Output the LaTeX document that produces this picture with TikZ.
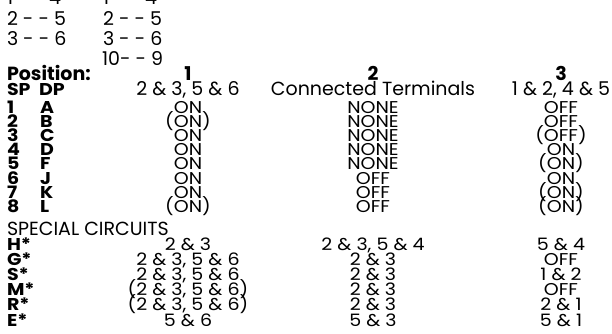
\documentclass[tikz,border=0pt]{standalone}
\usepackage{fontspec}
\usepackage{graphicx}
\setmainfont{Poppins}
\newcommand{\sqz}[1]{\scalebox{1}[0.9]{#1}}
\begin{document}
\begin{tikzpicture}[x=1pt,y=-1pt,
  every node/.style={inner sep=0pt, outer sep=0pt, font=\fontsize{19}{19}\selectfont},
  hd/.style={font=\fontsize{19}{19}\selectfont\bfseries},
  lw/.style={anchor=base west},
  ct/.style={anchor=base}]
\useasboundingbox (0,0) rectangle (612,333);
% top terminal pairs
\node[lw] (a1) at (7,4) {1 - - 4};
\node[lw] (a2) at (7,25) {2 - - 5};
\node[lw] (a3) at (7,45) {3 - - 6};
\node[lw] (b1) at (103,4) {1 - - 4};
\node[lw] (b2) at (103,25) {2 - - 5};
\node[lw] (b3) at (103,45) {3 - - 6};
\node[lw] (b4) at (102,65) {10- - 9};
% headers
\node[lw,hd] (pos) at (7,80) {Position:};
\node[ct,hd] (h1) at (188,80) {1};
\node[ct,hd] (h2) at (373,80) {2};
\node[ct,hd] (h3) at (561,80) {3};
\node[lw,hd] (sp) at (7,95) {\sqz{SP}};
\node[lw,hd] (dp) at (39,95) {\sqz{DP}};
\node[ct] (t1) at (188,95) {2 \& 3, 5 \& 6};
\node[ct] (t2) at (373,95) {Connected Terminals};
\node[ct] (t3) at (561,95) {1 \& 2, 4 \& 5};
% rows
\foreach \rsp/\rdp/\ca/\cb/\cc [count=\k] in {
  1/A/ON/NONE/OFF,
  2/B/(ON)/NONE/OFF,
  3/C/ON/NONE/(OFF),
  4/D/ON/NONE/ON,
  5/F/ON/NONE/(ON),
  6/J/ON/OFF/ON,
  7/K/ON/OFF/(ON),
  8/L/(ON)/OFF/(ON)}{
  \pgfmathsetmacro{\yy}{113+14.2*(\k-1)}
  \node[lw,hd] (s\k) at (7,\yy) {\sqz{\rsp}};
  \node[lw,hd] (d\k) at (40,\yy) {\sqz{\rdp}};
  \node[ct] (c1\k) at (188,\yy) {\sqz{\ca}};
  \node[ct] (c2\k) at (373,\yy) {\sqz{\cb}};
  \node[ct] (c3\k) at (561,\yy) {\sqz{\cc}};
}
\node[lw] (spec) at (7,235) {SPECIAL CIRCUITS};
\foreach \lab/\ca/\cb/\cc [count=\k] in {
  H*/2 \& 3/{2 \& 3, 5 \& 4}/5 \& 4,
  G*/{2 \& 3, 5 \& 6}/2 \& 3/OFF,
  S*/{2 \& 3, 5 \& 6}/2 \& 3/1 \& 2,
  M*/{(2 \& 3, 5 \& 6)}/2 \& 3/OFF,
  R*/{(2 \& 3, 5 \& 6)}/2 \& 3/2 \& 1,
  E*/5 \& 6/5 \& 3/5 \& 1}{
  \pgfmathsetmacro{\yy}{250+15.2*(\k-1)}
  \node[lw,hd] (x\k) at (7,\yy) {\sqz{\lab}};
  \node[ct] (e1\k) at (188,\yy) {\sqz{\ca}};
  \node[ct] (e2\k) at (373,\yy) {\sqz{\cb}};
  \node[ct] (e3\k) at (561,\yy) {\sqz{\cc}};
}
\end{tikzpicture}
\end{document}
